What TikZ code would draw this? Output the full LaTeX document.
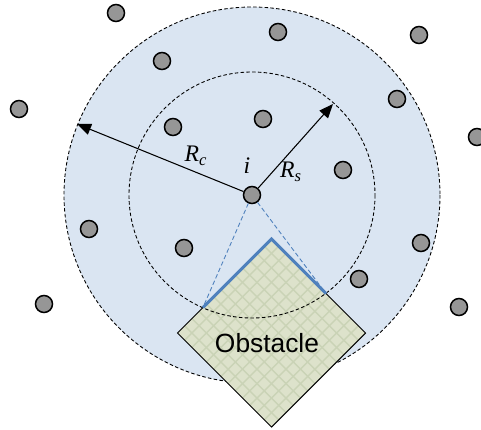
\documentclass[tikz,border=0pt]{standalone}
\usepackage{fontspec}
\setmainfont{Liberation Serif}
\newfontfamily\obstaclefont{Liberation Sans}
\usetikzlibrary{arrows.meta, calc}
\definecolor{commfill}{RGB}{218,229,242}
\definecolor{nodegray}{RGB}{150,150,150}
\definecolor{obsfill}{RGB}{221,226,203}
\definecolor{obshatch}{RGB}{202,211,182}
\definecolor{edgeblue}{RGB}{79,129,189}

\begin{document}
\begin{tikzpicture}[
            x=0.02cm, y=-0.02cm,
            every node/.style={font=\fontsize{13.5}{15}\selectfont\itshape},
            sensor/.style={circle, draw=black, line width=0.85pt, fill=nodegray, minimum size=0.34cm, inner sep=0pt},
            rangecircle/.style={draw=black, dash pattern=on 2pt off 1.3pt, line width=0.5pt},
            arrow/.style={line width=0.6pt, -{Triangle[length=8pt, width=6.5pt]}},
            sight/.style={draw=edgeblue, dash pattern=on 2.5pt off 1.5pt, line width=0.5pt}
        ]
            \clip (0,0) rectangle (481,430);

            % Zona de comunicacion (Rc)
            \coordinate (center) at (252,195);
            \fill[commfill] (center) circle (188);
            \draw[rangecircle] (center) circle (188);

            % Obstaculo
            \coordinate (obsT) at (271.5,239);
            \coordinate (obsL) at (177.5,333);
            \coordinate (obsR) at (365.5,333);
            \coordinate (obsB) at (271.5,427);
            \fill[obsfill] (obsT) -- (obsR) -- (obsB) -- (obsL) -- cycle;
            \foreach \k in {1,...,12} {
                \draw[obshatch, line width=0.8pt] ($(obsL)!\k/13!(obsT)$) -- ($(obsB)!\k/13!(obsR)$);
                \draw[obshatch, line width=0.8pt] ($(obsL)!\k/13!(obsB)$) -- ($(obsT)!\k/13!(obsR)$);
            }
            \draw[line width=0.6pt] (obsT) -- (obsR) -- (obsB) -- (obsL) -- cycle;
            \node (obstacle) at (267,343) {\obstaclefont\upshape\fontsize{15}{17}\selectfont Obstacle};

            % Zona de sensado (Rs)
            \draw[rangecircle] (center) circle (123);

            % Borde visible del obstaculo
            \coordinate (visL) at ($(obsL)!0.27!(obsT)$);
            \coordinate (visR) at ($(obsT)!0.58!(obsR)$);
            \draw[edgeblue, line width=1.7pt] (visL) -- (obsT) -- (visR);

            % Nodos
            \node (i) [sensor] at (center) {};
            \node (n1) [sensor] at (116,13) {};
            \node (n2) [sensor] at (278,32) {};
            \node (n3) [sensor] at (419,35) {};
            \node (n4) [sensor] at (162,61) {};
            \node (n5) [sensor] at (397,99) {};
            \node (n6) [sensor] at (19,109) {};
            \node (n7) [sensor] at (173,127) {};
            \node (n8) [sensor] at (263,119) {};
            \node (n9) [sensor] at (477,137) {};
            \node (n10) [sensor] at (343,170) {};
            \node (n11) [sensor] at (89,229) {};
            \node (n12) [sensor] at (184,248) {};
            \node (n13) [sensor] at (421,243) {};
            \node (n14) [sensor] at (359,279) {};
            \node (n15) [sensor] at (44,304) {};
            \node (n16) [sensor] at (459,307) {};

            % Lineas de vision hacia el obstaculo
            \draw[sight] (i) -- (visL);
            \draw[sight] (i) -- (visR);

            % Radios
            \coordinate (rc) at (77,124);
            \coordinate (rs) at (333,104);
            \draw[arrow] (i) -- (rc);
            \draw[arrow] (i) -- (rs);

            % Etiquetas
            \node (rclabel) at (196,156) {R\textsubscript{c}};
            \node (ilabel) at (247,166) {i};
            \node (rslabel) at (291,172) {R\textsubscript{s}};

        \end{tikzpicture}
\end{document}
